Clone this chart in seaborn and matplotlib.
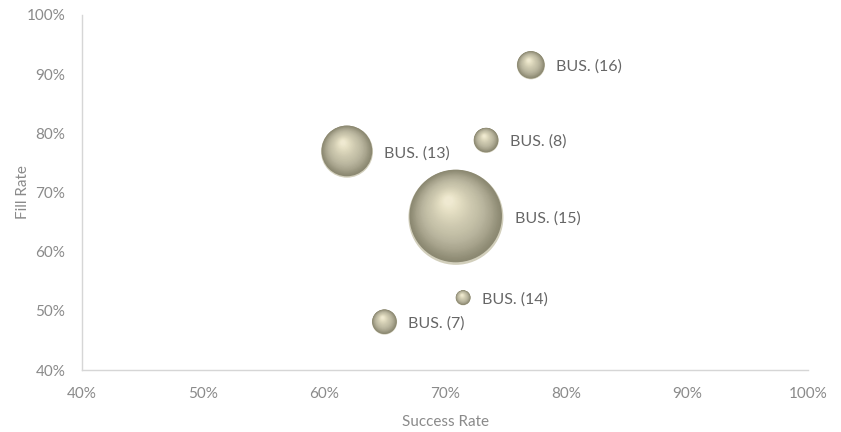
import numpy as np
import pandas as pd
import seaborn as sns
import matplotlib
matplotlib.use("Agg")
import matplotlib.pyplot as plt
from matplotlib.transforms import ScaledTranslation
from matplotlib.colors import LinearSegmentedColormap
from matplotlib.ticker import PercentFormatter, MultipleLocator

# ---- data -------------------------------------------------------------
buses = ["BUS. (16)", "BUS. (13)", "BUS. (8)", "BUS. (15)", "BUS. (14)", "BUS. (7)"]
success_rate = [77.1, 61.9, 73.4, 70.9, 71.5, 65.0]   # %
fill_rate = [91.5, 76.9, 78.8, 65.8, 52.2, 48.1]      # %
volume = [3.5, 12.0, 2.8, 40.0, 1.0, 2.8]             # bubble size

df = pd.DataFrame({"bus": buses, "success": success_rate,
                   "fill": fill_rate, "volume": volume})

# ---- style ------------------------------------------------------------
sns.set_theme(style="white")
plt.rcParams["font.family"] = ["Lato", "DejaVu Sans"]

MAX_AREA = 4680.0          # marker area (pt^2) of the largest bubble
VOL_MAX = 40.0
TICK_COLOR = "#8a8a8a"
LABEL_COLOR = "#666666"
SPINE_COLOR = "#d6d6d6"

shade = LinearSegmentedColormap.from_list(
    "sphere", ["#8c8972", "#a7a38c", "#b9b59e", "#c5c1a8", "#cfcab1",
               "#dbd6bb", "#e7e1c6", "#f0ebd3"])

fig = plt.figure(figsize=(8.41, 4.32), dpi=100)
ax = fig.add_axes([0.0975, 0.1435, 0.8633, 0.8218])

# base bubbles (their lower edge remains visible as a soft light rim)
sns.scatterplot(data=df, x="success", y="fill", size="volume",
                sizes=(0, MAX_AREA), size_norm=(0, VOL_MAX),
                color="#d2cfbc", edgecolor="none", linewidth=0,
                legend=False, ax=ax, zorder=2)

# spherical shading: stacked circles shrinking toward a highlight
n_layers = 45
for x, y, v, name in zip(df["success"], df["fill"], df["volume"], df["bus"]):
    area = v / VOL_MAX * MAX_AREA
    r_pt = np.sqrt(area) / 2.0
    for k in range(n_layers):
        t = k / n_layers
        f = 0.975 - 0.9 * t
        dx = -(1 - f) * r_pt * 0.17
        dy = (1 - f) * r_pt * 0.36 + 0.02 * r_pt
        off = ScaledTranslation(dx / 72.0, dy / 72.0, fig.dpi_scale_trans)
        ax.scatter([x], [y], s=area * f * f, color=shade(t ** 1.2),
                   edgecolors="none", linewidths=0,
                   transform=ax.transData + off, zorder=3 + k * 0.001)
    ax.annotate(name, (x, y), xytext=(r_pt + 8, -1), textcoords="offset points",
                ha="left", va="center", fontsize=11.5, color=LABEL_COLOR,
                zorder=5)

# ---- axes -------------------------------------------------------------
ax.set_xlim(40, 100)
ax.set_ylim(40, 100)
ax.xaxis.set_major_locator(MultipleLocator(10))
ax.yaxis.set_major_locator(MultipleLocator(10))
ax.xaxis.set_major_formatter(PercentFormatter(decimals=0))
ax.yaxis.set_major_formatter(PercentFormatter(decimals=0))
ax.tick_params(axis="both", length=0, labelsize=11, colors=TICK_COLOR)
ax.tick_params(axis="y", pad=12)
ax.tick_params(axis="x", pad=12)

for side in ("top", "right"):
    ax.spines[side].set_visible(False)
for side in ("left", "bottom"):
    ax.spines[side].set_color(SPINE_COLOR)
    ax.spines[side].set_linewidth(1.0)

ax.set_xlabel("Success Rate", fontsize=11, color=TICK_COLOR, labelpad=10)
ax.set_ylabel("Fill Rate", fontsize=11, color=TICK_COLOR)
ax.yaxis.set_label_coords(-0.071, 0.5)
ax.grid(False)

fig.savefig("out.png", dpi=100, facecolor="white")
